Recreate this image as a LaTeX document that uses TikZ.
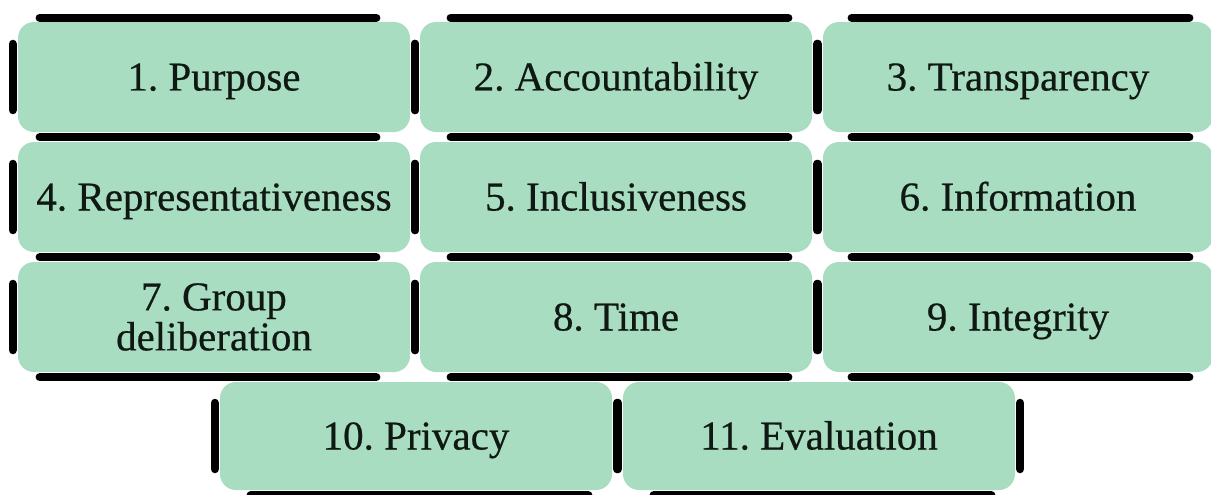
\documentclass[tikz,border=0pt]{standalone}
\usepackage{fontspec}
\setmainfont{Liberation Serif}
\newfontfamily\labelfont{Liberation Serif}[FakeBold=0.5]
\usetikzlibrary{calc}
\definecolor{mint}{RGB}{169,221,193}
\definecolor{ink}{RGB}{16,24,20}
\frenchspacing
\begin{document}
\begin{tikzpicture}[x=1pt,y=-1pt,
  box/.style={fill=mint,rounded corners=16pt,minimum width=392pt,minimum height=110pt,
              inner sep=0pt,font=\labelfont\fontsize{41}{40}\selectfont,text=ink},
  one/.style={text height=27pt,text depth=0pt},
  bar/.style={line width=8.5pt,line cap=round,draw=black}]
\useasboundingbox (0,0) rectangle (1211,495);
\clip (0,0) rectangle (1211,495);
% row 1
\node[box,one] (b1) at (214,77) {1. Purpose};
\node[box,one] (b2) at (616,77) {2. Accountability};
\node[box,one,minimum width=390pt] (b3) at (1018,77) {3. Transparency};
% row 2
\node[box,one] (b4) at (214,197) {4. Representativeness};
\node[box,one] (b5) at (616,197) {5. Inclusiveness};
\node[box,one,minimum width=390pt] (b6) at (1018,197) {6. Information};
% row 3
\node[box,align=center] (b7) at (214,317) {7. Group\\deliberation};
\node[box,one] (b8) at (616,317) {8. Time};
\node[box,one,minimum width=390pt] (b9) at (1018,317) {9. Integrity};
% row 4
\node[box,one,minimum height=108pt] (b10) at (416,436) {10. Privacy};
\node[box,one,minimum height=108pt] (b11) at (819,436) {11. Evaluation};
% top bars of row 1
\foreach \b/\l/\r in {b1/22/34,b2/31/24,b3/29/24}
  \draw[bar] ($(\b.north west)+(\l,-4)$) -- ($(\b.north east)+(-\r,-4)$);
% bottom bars
\foreach \b/\l/\r in {b1/22/34,b2/31/24,b3/29/24,b4/22/34,b5/31/24,b6/29/24,b7/22/34,b8/31/24,b9/29/24,b10/31/24,b11/31/24}
  \draw[bar] ($(\b.south west)+(\l,5)$) -- ($(\b.south east)+(-\r,5)$);
% side bars
\foreach \b in {b1,b2,b3,b4,b5,b6,b7,b8,b9,b10,b11}{
  \draw[bar] ($(\b.west)+(-5,-33)$) -- ($(\b.west)+(-5,33)$);
  \draw[bar] ($(\b.east)+(5,-33)$) -- ($(\b.east)+(5,33)$);
}
\end{tikzpicture}
\end{document}
